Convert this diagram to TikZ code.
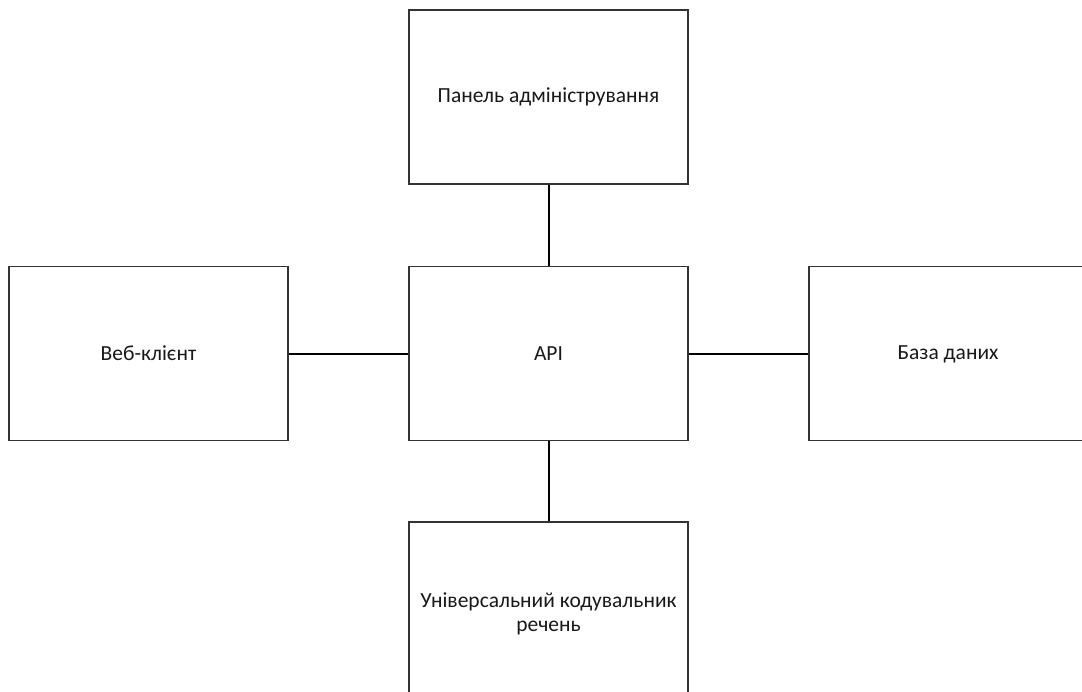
\documentclass[tikz,border=0pt]{standalone}
\usepackage{fontspec}
\setmainfont{Carlito}
\begin{document}
\begin{tikzpicture}[x=1pt,y=-1pt,
  label/.style={align=center,font=\fontsize{21.5}{24}\selectfont,text=black!90},
  block/.style={draw=black!80,line width=1.4pt,fill=white,inner sep=0pt,
    minimum width=279pt,minimum height=174pt,label},
  link/.style={draw=black,line width=2pt}]
\useasboundingbox (0,0) rectangle (1082,691);
\clip (0,0) rectangle (1082,691);
% central API with the four components around it
\node[block] (api) at (548.5,353.5) {API};
\node[block] (admin) at (548.5,97) {Панель адміністрування};
\node[block] (web) at (148.5,353.5) {Веб-клієнт};
\node[block,minimum width=300pt] (db) at (959,353.5) {};
\node[label] (dbtext) at (948,354.5) {База даних};
\node[block,minimum height=200pt] (enc) at (548.5,622) {};
\node[label] (enctext) at (548.5,614) {Універсальний кодувальник\\речень};
\draw[link] (admin.south) -- (api.north);
\draw[link] (web.east) -- (api.west);
\draw[link] (api.east) -- (db.west);
\draw[link] (api.south) -- (enc.north);
\end{tikzpicture}
\end{document}
